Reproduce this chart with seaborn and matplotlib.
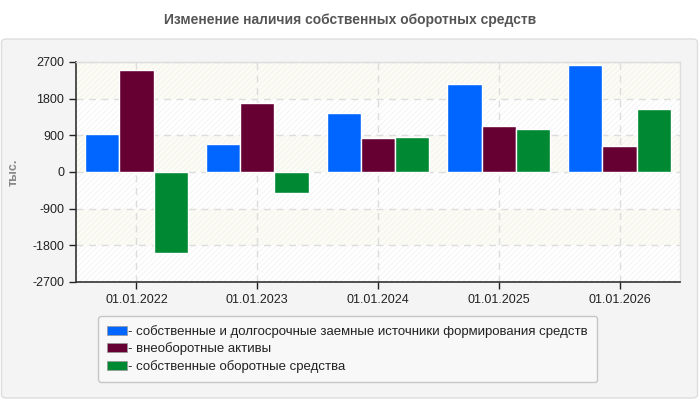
import matplotlib
matplotlib.use("Agg")
import matplotlib.pyplot as plt
import seaborn as sns
import pandas as pd
from matplotlib.patches import FancyBboxPatch, Patch, Rectangle

categories = ["01.01.2022", "01.01.2023", "01.01.2024", "01.01.2025", "01.01.2026"]
series_names = [
    "собственные и долгосрочные заемные источники формирования средств",
    "внеоборотные активы",
    "собственные оборотные средства",
]
own_and_longterm = [940, 695, 1457, 2170, 2637]
noncurrent_assets = [2510, 1686, 843, 1138, 646]
working_capital = [-2000, -510, 868, 1064, 1556]
colors = ["#0066ff", "#660033", "#008833"]
yticks = [-2700, -1800, -900, 0, 900, 1800, 2700]

rows = []
for name, vals in zip(series_names, [own_and_longterm, noncurrent_assets, working_capital]):
    for c, v in zip(categories, vals):
        rows.append({"date": c, "series": name, "value": v})
df = pd.DataFrame(rows)

sns.set_style("white")
plt.rcParams["font.family"] = ["Liberation Sans", "DejaVu Sans"]
plt.rcParams["hatch.linewidth"] = 0.5

fig = plt.figure(figsize=(7, 4), dpi=100, facecolor="white")
panel = FancyBboxPatch((1.5 / 700, 2 / 400), 696 / 700, 359 / 400,
                       boxstyle="round,pad=0,rounding_size=0.008",
                       transform=fig.transFigure, facecolor="#f4f4f4",
                       edgecolor="#dddddd", linewidth=1, zorder=-10)
fig.patches.append(panel)
fig.text(0.5, 1 - 20 / 400, "Изменение наличия собственных оборотных средств",
         ha="center", va="center", fontsize=10, fontweight="bold", color="#555555")

ax = fig.add_axes([76 / 700, 1 - 282 / 400, 604 / 700, 220 / 400])
ax.set_zorder(1)
ax.set_facecolor("white")

# background bands
for i in range(len(yticks) - 1):
    if i % 2 == 1:
        ax.axhspan(yticks[i], yticks[i + 1], facecolor="#fcfcf4", edgecolor="none", zorder=0)
ax.add_patch(Rectangle((0, 0), 1, 1, transform=ax.transAxes, facecolor="none",
                       edgecolor="#f0f0f0", hatch="//////", linewidth=0, zorder=0.5))

sns.barplot(data=df, x="date", y="value", hue="series", hue_order=series_names,
            order=categories, palette=colors, width=0.85, saturation=1,
            edgecolor="white", linewidth=1, legend=False, ax=ax, zorder=3)

ax.set_ylim(-2700, 2700)
ax.set_xlim(-0.5, 4.5)
ax.set_yticks(yticks)
ax.set_yticklabels([str(t) for t in yticks])
ax.set_xlabel("")
ax.set_ylabel("тыс.", color="#888888", fontsize=9, fontweight="bold")
ax.yaxis.set_label_coords(-(76 - 20) / 604, 0.5)
ax.grid(True, axis="both", color="#dddddd", linestyle=(0, (5, 4)), linewidth=1, zorder=1)
ax.set_axisbelow(True)
ax.tick_params(axis="both", labelsize=9, colors="#222222", length=5, width=1,
               direction="out", left=True, bottom=True)
for s in ["top", "right"]:
    ax.spines[s].set_color("#dddddd")
    ax.spines[s].set_linewidth(1)
for s in ["left", "bottom"]:
    ax.spines[s].set_color("#333333")
    ax.spines[s].set_linewidth(1.2)

handles = [Patch(facecolor=c, edgecolor="#999999", linewidth=0.5) for c in colors]
labels = ["- " + n for n in series_names]
leg = fig.legend(handles, labels, loc="upper left",
                 bbox_to_anchor=(98 / 700, 1 - 316 / 400),
                 fontsize=9.5, frameon=True, fancybox=True, facecolor="#fafafa",
                 edgecolor="#bbbbbb", handlelength=1.5, handleheight=0.7,
                 handletextpad=0.1, labelspacing=0.33, borderpad=0.7,
                 borderaxespad=0)
leg.get_frame().set_linewidth(1)
for t in leg.get_texts():
    t.set_color("#222222")

fig.savefig("out.png", dpi=100, facecolor="white")
